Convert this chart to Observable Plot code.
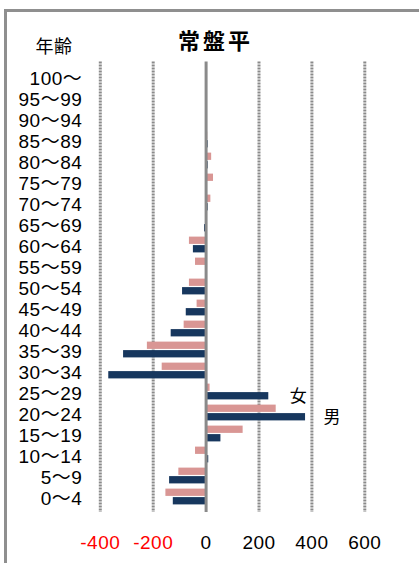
<!DOCTYPE html>
<html>
<head>
<meta charset="utf-8">
<script src="https://cdn.jsdelivr.net/npm/d3@7"></script>
<script src="https://cdn.jsdelivr.net/npm/@observablehq/plot@0.6"></script>
<style>
  html, body { margin: 0; padding: 0; background: #fff; }
  #wrap { position: relative; width: 419px; height: 563px; overflow: hidden; }
  #wrap svg { position: absolute; left: 0; top: 0; }
  #wrap svg text { letter-spacing: 0.5px; }
  .bt { position: absolute; left: 4px; top: 9px; width: 420px; height: 3px; background: #8f8f8f; }
  .bl { position: absolute; left: 4px; top: 9px; width: 3px; height: 560px; background: #8f8f8f; }
</style>
</head>
<body>
<div id="wrap"><div class="bt"></div><div class="bl"></div></div>
<script>
const title = "常盤平";
const axisTitle = "年齢";
const ages = ["100～","95～99","90～94","85～89","80～84","75～79","70～74","65～69","60～64","55～59","50～54","45～49","40～44","35～39","30～34","25～29","20～24","15～19","10～14","5～9","0～4"];
const female = [0, 0, 4, 6, 21, 28, 18, 0, -63, -40, -63, -34, -83, -222, -166, 15, 265, 140, -40, -103, -152];
const male   = [0, 0, 0, 8, 8, 0, 8, -6, -48, 0, -89, -75, -132, -312, -368, 237, 376, 56, 10, -138, -124];
const ticks = [-400, -200, 0, 200, 400, 600];
const seriesLabels = ["女", "男"];
const seriesLabelX = [349, 477];
const seriesLabelAge = ["25～29", "20～24"];

const fData = ages.map((a, i) => ({age: a, v: female[i]}));
const mData = ages.map((a, i) => ({age: a, v: male[i]}));
const lData = seriesLabels.map((t, i) => ({t, x: seriesLabelX[i], age: seriesLabelAge[i]}));

const font = '"Liberation Sans", Arial, "Noto Sans CJK JP", sans-serif';

const chart = Plot.plot({
  width: 419,
  height: 563,
  marginLeft: 99.8,
  marginRight: 54.7,
  marginTop: 61.4,
  marginBottom: 51,
  style: {fontFamily: font, fontSize: "19px", background: "transparent", color: "#000"},
  x: {domain: [-400, 600], axis: null},
  y: {domain: ages, padding: 0, axis: null},
  marks: [
    Plot.ruleX(ticks.filter(t => t !== 0), {x: d => d, stroke: "#8a8a8a", strokeWidth: 3, strokeDasharray: "2,1"}),
    Plot.barX(fData, {x: "v", y: "age", fill: "#d99694", insetTop: 2.6, insetBottom: 11.1}),
    Plot.barX(mData, {x: "v", y: "age", fill: "#17375e", insetTop: 11.1, insetBottom: 2.6}),
    Plot.ruleX([0], {stroke: "#8a8a8a", strokeWidth: 3}),
    Plot.text(ages, {y: d => d, frameAnchor: "left", dx: -18, dy: 2, textAnchor: "end", lineAnchor: "middle", fill: "#000", fontSize: 19}),
    Plot.text(ticks.filter(t => t < 0), {x: d => d, frameAnchor: "bottom", dy: 30.5, lineAnchor: "middle", textAnchor: "middle", text: d => String(d), fill: "#ff0000", fontSize: 19}),
    Plot.text(ticks.filter(t => t >= 0), {x: d => d, frameAnchor: "bottom", dy: 30.5, lineAnchor: "middle", textAnchor: "middle", text: d => String(d), fill: "#000", fontSize: 19}),
    Plot.text(lData, {x: "x", y: "age", text: "t", dy: 5, lineAnchor: "middle", fill: "#000", fontSize: 17}),
    Plot.text([title], {frameAnchor: "top", dx: -17, dy: -19.7, textAnchor: "middle", lineAnchor: "middle", fontSize: 22, fontWeight: "bold", fill: "#000"}),
    Plot.text([axisTitle], {frameAnchor: "top-left", dx: -46.4, dy: -14.7, textAnchor: "middle", lineAnchor: "middle", fontSize: 18, fill: "#000"})
  ]
});
document.getElementById("wrap").appendChild(chart);
chart.querySelectorAll("text").forEach(t => { if (t.textContent === title) t.style.letterSpacing = "3px"; });
</script>
</body>
</html>
